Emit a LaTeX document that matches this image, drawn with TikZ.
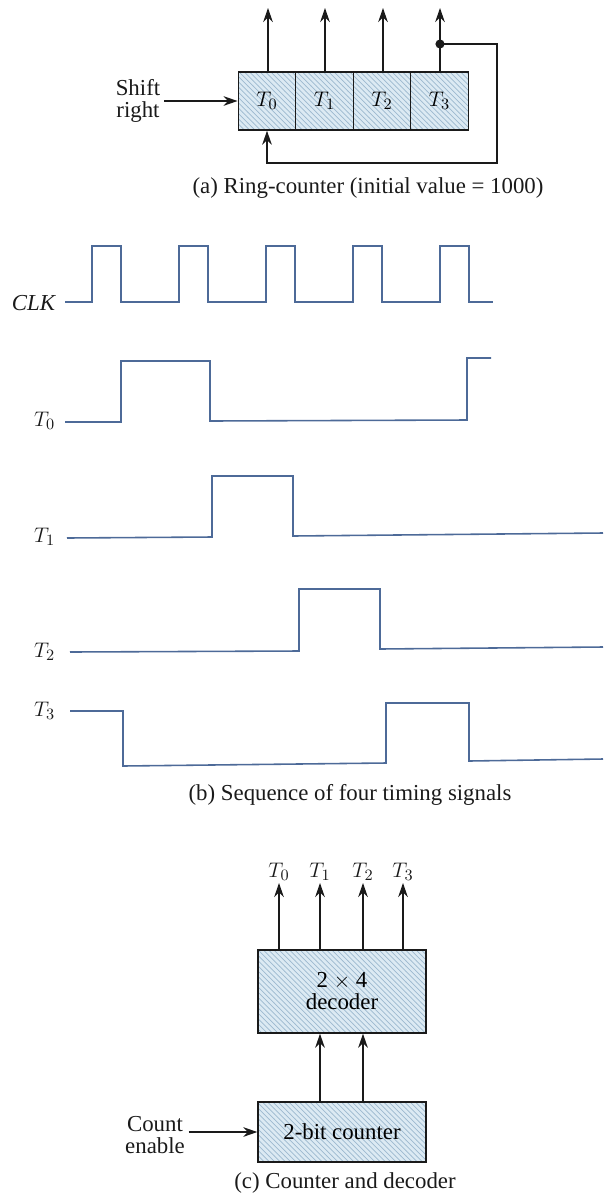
\documentclass[tikz,border=0pt]{standalone}
\usepackage{fontspec}
\setmainfont{Liberation Serif}
\usepackage{tikz}
\usetikzlibrary{arrows.meta,positioning,calc,patterns}
\definecolor{rcink}{HTML}{1A1A1A}
\definecolor{rcwave}{HTML}{4D6A98}
\definecolor{rcfill}{HTML}{DCEAF3}
\definecolor{rchatch}{HTML}{9DB9CF}
\newcommand{\rcsize}{\fontsize{13}{14.5}\selectfont}
\tikzset{
  % signal lines with an arrowhead
  rc arrow/.style={
    draw=rcink, line width=0.8pt,
    -{Stealth[length=8pt,width=5.5pt]},
  },
  % the shaded hardware blocks
  rc block/.style={
    draw=rcink, line width=0.8pt,
    preaction={fill=rcfill},
    pattern=north west lines, pattern color=rchatch,
    inner sep=0pt, font=\rcsize, align=center,
  },
  % plain labels beside the blocks
  rc label/.style={
    text=rcink, font=\rcsize, align=center, inner sep=2pt,
  },
  % figure captions
  rc caption/.style={
    text=rcink, font=\rcsize,
  },
}
\tikzset{
  wave/.style={draw=rcwave, line width=0.9pt, line join=miter},
  wavename/.style={text=rcink, font=\rcsize, anchor=east, inner sep=2pt},
}

\begin{document}
\begin{tikzpicture}[x=0.02cm,y=-0.02cm]
  \useasboundingbox (0,0) rectangle (603,1198);

  % ---- (a) the ring counter ------------------------------------------------
  \foreach \i/\x in {0/267,1/324.5,2/382,3/439.5}
    \node[rc block, minimum width=1.15cm, minimum height=1.16cm] (r\i) at (\x,101)
      {$T_\i$};
  \foreach \i/\x in {0/268,1/325,2/383,3/440}
    \coordinate (o\i) at (\x,8);
  \draw[rc arrow] (r0.north -| o0) -- (o0);
  \draw[rc arrow] (r1.north -| o1) -- (o1);
  \draw[rc arrow] (r2.north -| o2) -- (o2);
  \draw[rc arrow] (r3.north -| o3) -- (o3);

  \fill[rcink] (440,44) circle (2.6pt) coordinate (tap);
  \coordinate (fbcorner) at (497,163);
  \draw[rc arrow] (tap) -| (fbcorner) -| (r0.south);

  \node[rc label] (shift) at (138,101) {Shift\\[-2pt]right};
  \draw[rc arrow] (shift.east |- r0.west) -- (r0.west);

  \node[rc caption] (capa) at (368,188) {(a) Ring-counter (initial value = 1000)};

  % ---- (b) the four timing signals -----------------------------------------
  \node[wavename] (clk) at (59,303) {$\mathit{CLK}$};
  \node[wavename] (w0)  at (59,421) {$T_0$};
  \node[wavename] (w1)  at (59,537) {$T_1$};
  \node[wavename] (w2)  at (59,652) {$T_2$};
  \node[wavename] (w3)  at (59,711) {$T_3$};

  \draw[wave] (65,302) foreach \r in {92,179,266,353,440}
    { -- (\r,302) -- (\r,246) -- (\r+29,246) -- (\r+29,302) } -- (493,302);
  \draw[wave] (65,422) -- (121,422) -- (121,361) -- (210,361) -- (210,421)
    -- (467,420) -- (467,358) -- (491,358);
  \draw[wave] (67,538) -- (212,537) -- (212,476) -- (293,476) -- (293,536)
    -- (603,533);
  \draw[wave] (70,652) -- (299,651) -- (299,589) -- (380,589) -- (380,649)
    -- (603,647);
  \draw[wave] (70,711) -- (123,711) -- (123,766) -- (386,763) -- (386,703)
    -- (469,703) -- (469,761) -- (603,759);

  \node[rc caption] (capb) at (350,795) {(b) Sequence of four timing signals};

  % ---- (c) counter and decoder ---------------------------------------------
  \node[rc block, minimum width=3.36cm, minimum height=1.66cm] (dec) at (342,991.5)
    {2 $\times$ 4\\[-2pt]decoder};
  \node[rc block, minimum width=3.36cm, minimum height=1.2cm] (cnt) at (342,1132)
    {2-bit counter};

  \foreach \i/\x in {0/279,1/320,2/363,3/403} {
    \node[rc label, anchor=south, inner sep=1pt] (t\i) at (\x,883) {$T_\i$};
    \draw[rc arrow] (dec.north -| t\i) -- (t\i.south);
  }
  \draw[rc arrow] (cnt.north -| t1) -- (dec.south -| t1);
  \draw[rc arrow] (cnt.north -| t2) -- (dec.south -| t2);

  \node[rc label] (enable) at (155,1135) {Count\\[-2pt]enable};
  \draw[rc arrow] (enable.east |- cnt.west) -- (cnt.west);

  \node[rc caption] (capc) at (345,1183) {(c) Counter and decoder};

\end{tikzpicture}
\end{document}
